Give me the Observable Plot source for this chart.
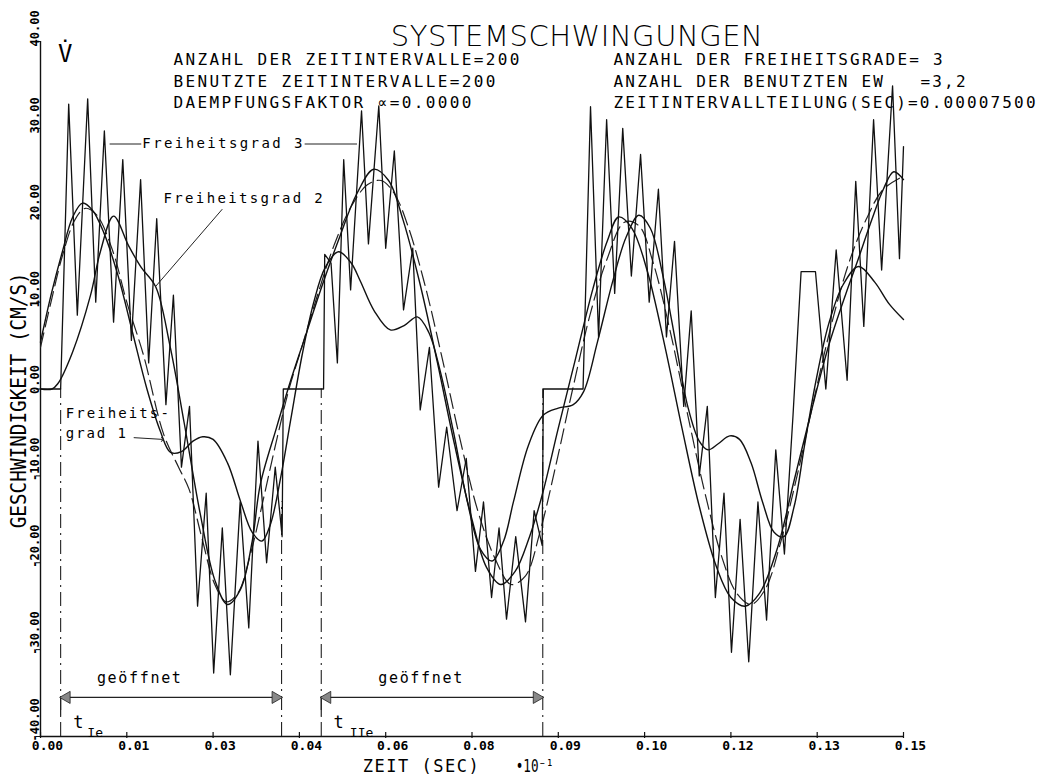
<!DOCTYPE html>
<html><head><meta charset="utf-8">
<script src="https://cdn.jsdelivr.net/npm/d3@7"></script>
<script src="https://cdn.jsdelivr.net/npm/@observablehq/plot@0.6"></script>
<style>
body{margin:0;background:#fff;}
#chart{width:1051px;height:775px;}
</style></head><body><div id="chart"></div>
<script>
// ---- data (t in axis units x10^-1 s, v in cm/s) ----
const xTicks = [0, 0.015, 0.03, 0.045, 0.06, 0.075, 0.09, 0.105, 0.12, 0.135, 0.15];
const xTickLabels = ["0.00","0.01","0.03","0.04","0.06","0.08","0.09","0.10","0.12","0.13","0.15"];
const yTicks = [40, 30, 20, 10, 0, -10, -20, -30, -40];
const yTickLabels = ["40.00","30.00","20.00","10.00","0.00","-10.00","-20.00","-30.00","-40.00"];

// Freiheitsgrad 3 (fast oscillation, peaks and troughs)
const f3T = [0,0.0035,0.0049,0.0064,0.0082,0.0096,0.0111,0.0127,0.0143,0.0158,0.0174,0.0188,0.0202,0.0218,0.0231,0.0245,0.0259,0.0273,0.0288,0.0301,0.0316,0.033,0.0347,0.0362,0.0378,0.0393,0.0408,0.042,0.0422,0.0492,0.0494,0.0505,0.0516,0.0527,0.0539,0.0558,0.057,0.0588,0.06,0.0615,0.0631,0.0647,0.066,0.0676,0.0692,0.0706,0.0724,0.074,0.0756,0.077,0.0784,0.0797,0.081,0.0826,0.0843,0.0858,0.0872,0.0874,0.0943,0.0956,0.097,0.0984,0.0998,0.1012,0.1027,0.1043,0.1058,0.1074,0.1088,0.1102,0.1118,0.1131,0.1145,0.1159,0.1173,0.1188,0.1201,0.1216,0.1231,0.1247,0.1262,0.1278,0.1293,0.1308,0.1322,0.1347,0.1365,0.1383,0.1402,0.1417,0.1431,0.1448,0.1462,0.1481,0.1493,0.15];
const f3V = [0,0,32.8,8.5,33.4,10,29.7,7.7,26.4,5.6,24.1,3,19.6,-1.8,10.8,-9,-2,-25,-12,-32.7,-16,-32.9,-13,-27.5,-6,-20,-9,-17,0,0,15.5,14.5,3,26.4,11.4,32,16.7,32.6,16.2,27.4,9.1,16.2,-2.4,4.8,-11.3,-4.4,-14,-8,-21,-13,-24,-16,-26.5,-17,-26.8,-14,-18,0,0,32.5,6,31,11,30,13,27,10,23,6,17,-2,9,-10,-2,-24,-12,-30.3,-15,-31.4,-13,-26.6,-7,-19,-3,13.5,13.5,0,16,1,23.9,7.2,31,13.7,34.9,15,27.9];

// Freiheitsgrad 2 (smooth)
const f2T = [0,0.002,0.003,0.0056,0.0087,0.0104,0.0127,0.0153,0.0175,0.02,0.0225,0.025,0.0278,0.0303,0.0325,0.0348,0.0368,0.0382,0.041,0.0435,0.046,0.049,0.052,0.055,0.0579,0.0605,0.063,0.066,0.069,0.072,0.075,0.0775,0.08,0.0825,0.085,0.0872,0.09,0.093,0.096,0.0985,0.1005,0.1028,0.1055,0.1085,0.1115,0.1145,0.1175,0.12,0.1225,0.125,0.128,0.131,0.134,0.137,0.14,0.142,0.1445,0.1465,0.1483,0.15];
const f2V = [0,0,0.6,4.3,10.8,15.8,19.9,16.5,14,11.8,5,-4,-14.5,-22,-24.8,-23,-17.5,-11,-4.5,1,6,12,17.5,22.5,25.3,24,19.5,12,3,-6.5,-15,-20.5,-22.5,-21,-17,-12.2,-4.5,3.5,11.5,17,19.8,18.5,13.5,5,-4.5,-13.5,-20.5,-24,-25,-23.5,-18.5,-10.5,-2.5,5,11,14.7,19.5,23,25,24.1];

// Freiheitsgrad 1 (smooth with humps)
const f1T = [0,0.0019,0.0038,0.0056,0.0073,0.009,0.011,0.0135,0.016,0.0185,0.0208,0.0226,0.0245,0.0265,0.0282,0.03,0.0325,0.0348,0.0368,0.0385,0.04,0.0418,0.0435,0.0455,0.0475,0.0495,0.0518,0.054,0.0556,0.058,0.0608,0.0632,0.0655,0.0675,0.0695,0.0718,0.0742,0.0765,0.0785,0.0805,0.0822,0.0848,0.0874,0.09,0.0926,0.0944,0.0968,0.0995,0.1018,0.104,0.106,0.1082,0.1105,0.1125,0.1145,0.116,0.1178,0.1198,0.1215,0.1235,0.1255,0.1275,0.1292,0.131,0.1328,0.1348,0.137,0.1395,0.1422,0.145,0.1475,0.15];
const f1V = [5.4,11,15.8,19.8,21.4,20.6,18,13,6.5,0,-4.8,-7.3,-7.2,-6,-5.5,-5.8,-8.5,-13,-16.5,-17.5,-15.5,-10,-3.5,4,10,14,15.8,14.5,12.4,9,6.8,7.3,8.3,6.5,2,-5,-13,-18.5,-19.8,-17.5,-13,-6.5,-3,-2.2,-1.8,-0.3,5.4,12.5,17.5,20,18.5,13,5,-2,-6,-7,-6.3,-5.4,-5.8,-8.5,-13,-16.5,-17,-13.5,-6.5,1,7.5,12,14.1,12.3,9.8,8];

// dashed companion curve
const fdT = [0,0.002,0.0038,0.006,0.0078,0.0098,0.0125,0.015,0.0179,0.0214,0.024,0.0258,0.028,0.0303,0.0323,0.0343,0.0365,0.0388,0.041,0.0432,0.0455,0.048,0.051,0.054,0.0568,0.0592,0.0615,0.064,0.067,0.07,0.073,0.076,0.079,0.0818,0.0843,0.0868,0.0895,0.0925,0.0955,0.0985,0.1015,0.104,0.1065,0.1095,0.1125,0.1155,0.1185,0.121,0.1235,0.126,0.1285,0.1315,0.1345,0.1375,0.1405,0.1435,0.1465,0.15];
const fdV = [4.8,10.5,15.3,19.5,20.8,20,16,10,3.9,-5.2,-9,-11.5,-17,-22.5,-24.5,-23.5,-19,-12.5,-6,0,5,10.5,16.5,21,23.5,24,22.5,18.5,11.5,3,-6,-14,-19.5,-22.5,-21.5,-16.5,-9,0,8.5,15,19.2,18.8,14.5,6.5,-3,-12,-19.5,-23.5,-24.8,-23,-18,-10,-1,7.5,14.5,19.5,23,24.5];

// annotations
const gates = [0.0035, 0.0419, 0.0488, 0.0873];
const gateTop = [0, -13, 0, 0];
const openStart = [0.0035, 0.0488];
const openEnd = [0.0419, 0.0873];
const openLabel = ["geöffnet", "geöffnet"];
const openLabelX = [0.0171, 0.0660];

const infoLeft = ["ANZAHL DER ZEITINTERVALLE=200", "BENUTZTE ZEITINTERVALLE=200", "DAEMPFUNGSFAKTOR \u221D=0.0000"];
const infoRight = ["ANZAHL DER FREIHEITSGRADE= 3", "ANZAHL DER BENUTZTEN EW   =3,2", "ZEITINTERVALLTEILUNG(SEC)=0.00007500"];
const infoV = [37.24, 34.82, 32.4];
const scaleNote = "\u202210\u207B\u00B9";

const toRows = (T, V) => T.map((t, i) => ({t, v: V[i]}));
const f3 = toRows(f3T, f3V), f2 = toRows(f2T, f2V), f1 = toRows(f1T, f1V), fd = toRows(fdT, fdV);

const mono = "DejaVu Sans Mono, Liberation Mono, monospace";
const arrowV = -35.5;

const plot = Plot.plot({
  width: 1051, height: 775,
  marginLeft: 40, marginRight: 148, marginTop: 41, marginBottom: 39,
  style: {background: "#fff", color: "#000", fontFamily: mono},
  x: {domain: [0, 0.15], axis: null},
  y: {domain: [-40, 40], axis: null},
  marks: [
    // axis lines and ticks
    Plot.ruleX([0], {x: d => d, y1: -40, y2: 40, stroke: "#111", strokeWidth: 1.4}),
    Plot.ruleY([-40], {y: d => d, x1: 0, x2: 0.15, stroke: "#111", strokeWidth: 1.4}),
    Plot.ruleX(xTicks, {x: d => d, y1: -40, y2: -40, insetTop: -4, insetBottom: -2, stroke: "#111", strokeWidth: 1.2}),
    Plot.ruleY(yTicks, {y: d => d, x1: 0, x2: 0, insetLeft: -4, insetRight: -1, stroke: "#111"}),
    Plot.text(xTicks, {x: d => d, frameAnchor: "bottom", text: (d, i) => xTickLabels[i], dx: 7, dy: 13, fontSize: 13, fontWeight: "bold"}),
    Plot.text(yTicks, {y: d => d, frameAnchor: "left", text: (d, i) => yTickLabels[i], rotate: -90, textAnchor: "start", lineAnchor: "bottom", dx: -2, dy: 5, fontSize: 12, fontWeight: "bold"}),
    // axis titles
    Plot.text(["GESCHWINDIGKEIT (CM/S)"], {frameAnchor: "left", y: -1.3, text: d => d, rotate: -90, textAnchor: "middle", lineAnchor: "bottom", dx: -15, fontSize: 21}),
    Plot.text(["ZEIT (SEC)"], {x: 0.056, frameAnchor: "bottom", text: d => d, textAnchor: "start", lineAnchor: "bottom", dy: 35, fontSize: 17}),
    Plot.text([scaleNote], {x: 0.0826, frameAnchor: "bottom", text: d => d, textAnchor: "start", lineAnchor: "bottom", dy: 35, fontSize: 17}),
    Plot.text(["V\u0307"], {x: 0.0043, y: 37.6, text: d => d, fontSize: 24, fontWeight: 300, lineAnchor: "bottom"}),
    // title and info
    Plot.text(["SYSTEMSCHWINGUNGEN"], {x: 0.0932, y: 39.5, text: d => d, fontSize: 29, fontWeight: 300, lineAnchor: "bottom", fontFamily: "DejaVu Sans"}),
    Plot.text(infoLeft, {x: 0.0231, y: (d, i) => infoV[i], text: d => d, textAnchor: "start", lineAnchor: "bottom", fontSize: 16}),
    Plot.text(infoRight, {x: 0.0996, y: (d, i) => infoV[i], text: d => d, textAnchor: "start", lineAnchor: "bottom", fontSize: 16}),
    // gate lines
    Plot.ruleX(gates, {x: d => d, y1: -40, y2: (d, i) => gateTop[i], stroke: "#222", strokeWidth: 1.1, strokeDasharray: "14,5,2,5"}),
    Plot.ruleX(openStart, {x: d => d, y1: arrowV, y2: -37.6, stroke: "#222", strokeWidth: 1.2}),
    // arrows
    Plot.ruleY(openStart, {x1: d => d, x2: (d, i) => openEnd[i], y: arrowV, stroke: "#222", strokeWidth: 1.1}),
    Plot.dot(openStart, {x: d => d, y: arrowV, symbol: "triangle", rotate: -90, r: 4.5, dx: 6, fill: "#888", stroke: "#222", strokeWidth: 0.8}),
    Plot.dot(openEnd, {x: d => d, y: arrowV, symbol: "triangle", rotate: 90, r: 4.5, dx: -6, fill: "#888", stroke: "#222", strokeWidth: 0.8}),
    Plot.text(openLabel, {x: (d, i) => openLabelX[i], y: -33.8, text: d => d, lineAnchor: "bottom", fontSize: 15}),
    Plot.text(["t"], {x: [0.0066], y: -39.0, text: d => d, lineAnchor: "bottom", fontSize: 17}),
    Plot.text(["Ie"], {x: [0.0095], y: -40, text: d => d, lineAnchor: "bottom", fontSize: 13}),
    Plot.text(["t"], {x: [0.0518], y: -39.0, text: d => d, lineAnchor: "bottom", fontSize: 17}),
    Plot.text(["IIe"], {x: [0.0558], y: -40, text: d => d, lineAnchor: "bottom", fontSize: 13}),
    // curves
    Plot.line(fd, {x: "t", y: "v", curve: "catmull-rom", stroke: "#222", strokeWidth: 1.2, strokeDasharray: "15,6"}),
    Plot.line(f2, {x: "t", y: "v", curve: "catmull-rom", stroke: "#111", strokeWidth: 1.4}),
    Plot.line(f1, {x: "t", y: "v", curve: "catmull-rom", stroke: "#111", strokeWidth: 1.4}),
    Plot.line(f3, {x: "t", y: "v", stroke: "#111", strokeWidth: 1.3}),
    // DOF labels and leaders
    Plot.text(["Freiheitsgrad 3"], {x: 0.0177, y: 28.2, text: d => d, textAnchor: "start", fontSize: 14}),
    Plot.ruleY([28.2], {y: d => d, x1: 0.0121, x2: 0.0176, stroke: "#222"}),
    Plot.ruleY([28.2], {y: d => d, x1: 0.0460, x2: 0.0551, stroke: "#222"}),
    Plot.text(["Freiheitsgrad 2"], {x: 0.0214, y: 21.9, text: d => d, textAnchor: "start", fontSize: 14}),
    Plot.link([0], {x1: 0.0316, y1: 20.7, x2: 0.0200, y2: 11.8, stroke: "#222"}),
    Plot.text(["Freiheits-"], {x: 0.0044, y: -2.8, text: d => d, textAnchor: "start", fontSize: 14}),
    Plot.text(["grad 1"], {x: 0.0044, y: -5.1, text: d => d, textAnchor: "start", fontSize: 14}),
    Plot.link([0], {x1: 0.0162, y1: -5.6, x2: 0.0212, y2: -5.8, stroke: "#222", markerEnd: "arrow"})
  ]
});
document.getElementById("chart").appendChild(plot);

// fit text widths to the plotter lettering of the original
const fits = new Map([
  ["SYSTEMSCHWINGUNGEN", [372, "spacing"]],
  [infoLeft[0], [346, "spacing"]], [infoLeft[1], [322, "spacing"]], [infoLeft[2], [298, "spacing"]],
  [infoRight[0], [329, "spacing"]], [infoRight[1], [352, "spacing"]], [infoRight[2], [422, "spacing"]],
  ["Freiheitsgrad 3", [160, "spacing"]], ["Freiheitsgrad 2", [159, "spacing"]],
  ["Freiheits-", [103, "spacing"]], ["grad 1", [60, "spacing"]], ["geöffnet", [84, "spacing"]],
  ["GESCHWINDIGKEIT (CM/S)", [256, "spacingAndGlyphs"]], ["ZEIT (SEC)", [116, "spacing"]],
  [scaleNote, [38, "spacingAndGlyphs"]]
]);
plot.querySelectorAll("text").forEach(el => {
  const f = fits.get(el.textContent);
  if (f) { el.setAttribute("textLength", f[0]); el.setAttribute("lengthAdjust", f[1]); }
});
</script></body></html>
